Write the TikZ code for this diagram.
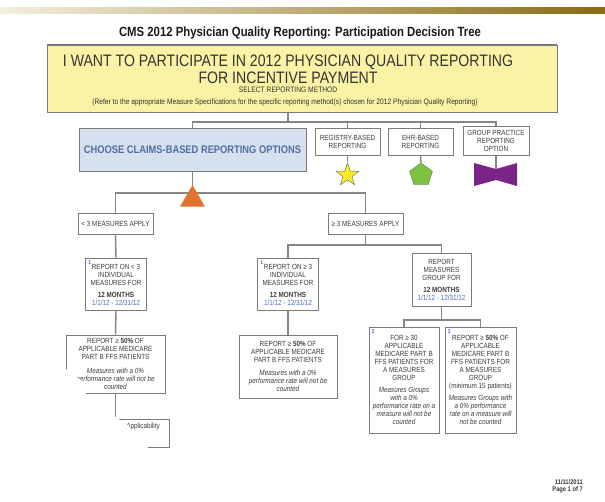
\documentclass[tikz,border=0pt]{standalone}
\usepackage{fontspec}
\setmainfont{Liberation Sans}[FakeStretch=0.85]
\usepackage{tikz}
\usetikzlibrary{positioning,shapes.geometric}
\usepackage{xcolor}
\definecolor{barLight}{HTML}{F3EFDF}
\definecolor{barDark}{HTML}{8A6A12}
\definecolor{lineGray}{HTML}{858585}
\definecolor{boxGray}{HTML}{7A7A7A}
\definecolor{boxText}{HTML}{3C3C3C}
\definecolor{wantFill}{HTML}{FAF3A6}
\definecolor{claimsFill}{HTML}{D5E1EF}
\definecolor{claimsText}{HTML}{4F6FA3}
\definecolor{triOrange}{HTML}{E2722F}
\definecolor{starYellow}{HTML}{F7EC2E}
\definecolor{pentGreen}{HTML}{7CC142}
\definecolor{bowPurple}{HTML}{7A2488}
\definecolor{dateBlue}{HTML}{4A6CC0}
\newcommand{\boxtext}{\fontsize{5.3}{5.7}\selectfont}

\begin{document}
\begin{tikzpicture}[
    x=0.025cm, y=-0.025cm,
    treeLine/.style={draw=lineGray, line width=1pt},
    plainBox/.style={rectangle, draw=boxGray, fill=white, line width=0.6pt, inner sep=0pt, align=center, text=boxText, font=\boxtext},
    optBox/.style={plainBox, minimum width=1.625cm, minimum height=0.675cm},
    measBox/.style={plainBox, minimum width=1.875cm, minimum height=0.525cm},
    reportBox/.style={plainBox, minimum width=1.525cm, minimum height=1.3cm},
    numLabel/.style={anchor=north west, inner sep=0pt, xshift=2.2pt, yshift=-1.6pt, font=\fontsize{4}{4}\selectfont\bfseries, text=dateBlue},
    headFont/.style={anchor=base, inner sep=0pt, text=black!80}
]
    \useasboundingbox (0,0) rectangle (605,501);

    % Banner
    \shade[left color=barLight, right color=barDark] (0,7) rectangle (605,13);
    \node[anchor=base, inner sep=0pt, font=\fontsize{9.5}{10}\selectfont\bfseries, text=black!90] (title) at (300,36) {CMS 2012 Physician Quality Reporting: Participation Decision Tree};

    \node[rectangle, draw=boxGray, fill=wantFill, line width=0.6pt, minimum width=12.75cm, minimum height=1.675cm] (wantBox) at (302,78.5) {};
    \draw[black!55, line width=0.8pt] (wantBox.north west) -- (wantBox.north east);
    \node[headFont, font=\fontsize{11.8}{12}\selectfont] (wantA) at (288,66) {I WANT TO PARTICIPATE IN 2012 PHYSICIAN QUALITY REPORTING};
    \node[headFont, font=\fontsize{11.8}{12}\selectfont] (wantB) at (288,83) {FOR INCENTIVE PAYMENT};
    \node[headFont, font=\fontsize{5.6}{6}\selectfont] (wantC) at (288,92) {SELECT REPORTING METHOD};
    \node[headFont, font=\fontsize{5.6}{6}\selectfont] (wantD) at (285,104) {(Refer to the appropriate Measure Specifications for the specific reporting method(s) chosen for 2012 Physician Quality Reporting)};

    % Reporting methods
    \node[plainBox, fill=claimsFill, minimum width=5.675cm, minimum height=1.075cm, text=claimsText, font=\fontsize{7.8}{8}\selectfont\bfseries] (claimsBox) at (192.5,149.5) {CHOOSE CLAIMS-BASED REPORTING OPTIONS};
    \node[optBox] (registryBox) at (347.5,141.5) {REGISTRY-BASED\\REPORTING};
    \node[optBox] (ehrBox) at (420.5,141.5) {EHR-BASED\\REPORTING};
    \node[optBox, minimum width=1.65cm, minimum height=0.725cm] (groupBox) at (496,141) {GROUP PRACTICE\\REPORTING\\OPTION};

    \coordinate (topSplit) at (288,122);
    \draw[treeLine] (wantBox.south -| topSplit) -- (topSplit);
    \draw[treeLine] (claimsBox.north) |- (topSplit) -| (groupBox.north);
    \draw[treeLine] (registryBox.north) -- (registryBox.north |- topSplit);
    \draw[treeLine] (ehrBox.north) -- (ehrBox.north |- topSplit);

    \node[star, star points=5, star point ratio=2.5, minimum size=0.6cm, inner sep=0pt, fill=starYellow, draw=black!60, line width=0.3pt] (regStar) at (347.5,175) {};
    \node[regular polygon, regular polygon sides=5, minimum size=0.6cm, inner sep=0pt, fill=pentGreen, draw=pentGreen!70!black, line width=0.3pt] (ehrPent) at (421,175) {};
    \fill[bowPurple] (474,163) -- (496,169) -- (517,163) -- (517,186) -- (496,180) -- (474,186) -- cycle;
    \coordinate (bowNotch) at (496,169);
    \draw[treeLine] (registryBox.south) -- (regStar.outer point 1);
    \draw[treeLine] (ehrBox.south) -- (ehrPent.corner 1);
    \draw[treeLine] (groupBox.south) -- (bowNotch);

    % Claims branches
    \node[measBox] (lessBox) at (115.5,223.5) {< 3 MEASURES APPLY};
    \node[measBox] (moreBox) at (365.5,223.5) {≥ 3 MEASURES APPLY};
    \coordinate (claimsSplit) at (192.5,193);
    \draw[treeLine] (claimsBox.south) -- (claimsSplit);
    \draw[treeLine] (lessBox.north) |- (claimsSplit) -| (moreBox.north);
    \node[regular polygon, regular polygon sides=3, minimum size=0.72cm, inner sep=0pt, fill=triOrange] (claimsTri) at (192.5,199.4) {};

    \node[reportBox] (repLess) at (116,284.5) {REPORT ON < 3\\INDIVIDUAL\\MEASURES FOR\\[2.8pt]\textbf{12 MONTHS}\\{\color{dateBlue}1/1/12 - 12/31/12}};
    \node[numLabel] (numA) at (repLess.north west) {1};
    \node[reportBox] (repMore) at (288,284.5) {REPORT ON ≥ 3\\INDIVIDUAL\\MEASURES FOR\\[2.8pt]\textbf{12 MONTHS}\\{\color{dateBlue}1/1/12 - 12/31/12}};
    \node[numLabel] (numB) at (repMore.north west) {1};
    \node[reportBox, minimum width=1.475cm, minimum height=1.325cm] (groupRep) at (441.5,279.5) {REPORT\\MEASURES\\GROUP FOR\\[2.8pt]\textbf{12 MONTHS}\\{\color{dateBlue}1/1/12 - 12/31/12}};

    \draw[treeLine] (lessBox.south) -- (repLess.north);
    \coordinate (moreSplit) at (365.5,245);
    \draw[treeLine] (moreBox.south) -- (moreSplit);
    \draw[treeLine] (repMore.north) |- (moreSplit) -| (groupRep.north);

    % Patient thresholds
    \node[plainBox, minimum width=2.475cm, minimum height=1.45cm] (fiftyLess) at (115.5,364) {REPORT ≥ \textbf{50\%} OF\\APPLICABLE MEDICARE\\PART B FFS PATIENTS\\[4pt]{\itshape Measures with a 0\%}\\{\itshape performance rate will not be}\\{\itshape counted}};
    \node[plainBox, minimum width=2.45cm, minimum height=1.575cm] (fiftyMore) at (288,366.5) {REPORT ≥ \textbf{50\%} OF\\APPLICABLE MEDICARE\\PART B FFS PATIENTS\\[4pt]{\itshape Measures with a 0\%}\\{\itshape performance rate will not be}\\{\itshape counted}};
    \node[plainBox, minimum width=1.3cm, minimum height=0.7cm] (mavBox) at (143,433) {Applicability\\[5pt]};
    \draw[treeLine] (repLess.south) -- (fiftyLess.north);
    \draw[treeLine] (repMore.south) -- (fiftyMore.north);
    \draw[treeLine] (fiftyLess.south) -- (fiftyLess.south |- mavBox.north);

    \node[plainBox, minimum width=1.75cm, minimum height=2.65cm] (groupThirty) at (404,380) {FOR ≥ 30\\APPLICABLE\\MEDICARE PART B\\FFS PATIENTS FOR\\A MEASURES\\GROUP\\[2.8pt]{\itshape Measures Groups}\\{\itshape with a 0\%}\\{\itshape performance rate on a}\\{\itshape measure will not be}\\{\itshape counted}};
    \node[numLabel] (numC) at (groupThirty.north west) {2};
    \node[plainBox, minimum width=1.775cm, minimum height=2.65cm] (groupFifty) at (480.5,380) {REPORT ≥ \textbf{50\%} OF\\APPLICABLE\\MEDICARE PART B\\FFS PATIENTS FOR\\A MEASURES\\GROUP\\(minimum 15 patients)\\[2.8pt]{\itshape Measures Groups with}\\{\itshape a 0\% performance}\\{\itshape rate on a measure will}\\{\itshape not be counted}};
    \node[numLabel] (numD) at (groupFifty.north west) {3};
    \coordinate (groupSplit) at (441.5,320);
    \draw[treeLine] (groupRep.south) -- (groupSplit);
    \draw[treeLine] (groupThirty.north) |- (groupSplit) -| (groupFifty.north);

    % Page curl
    \fill[white] (30,369) -- (66,369) -- (74,375) -- (81,380) -- (86,394) -- (117,418) -- (129,426) -- (136,437) -- (175,472) -- (30,472) -- cycle;

    % Footer
    \node[anchor=base east, inner sep=0pt, font=\fontsize{4.8}{5}\selectfont\bfseries, text=black!80] (dateStamp) at (583,484) {11/11/2011};
    \node[anchor=base east, inner sep=0pt, font=\fontsize{4.8}{5}\selectfont\bfseries, text=black!80] (pageStamp) at (583,491) {Page 1 of 7};
\end{tikzpicture}
\end{document}
